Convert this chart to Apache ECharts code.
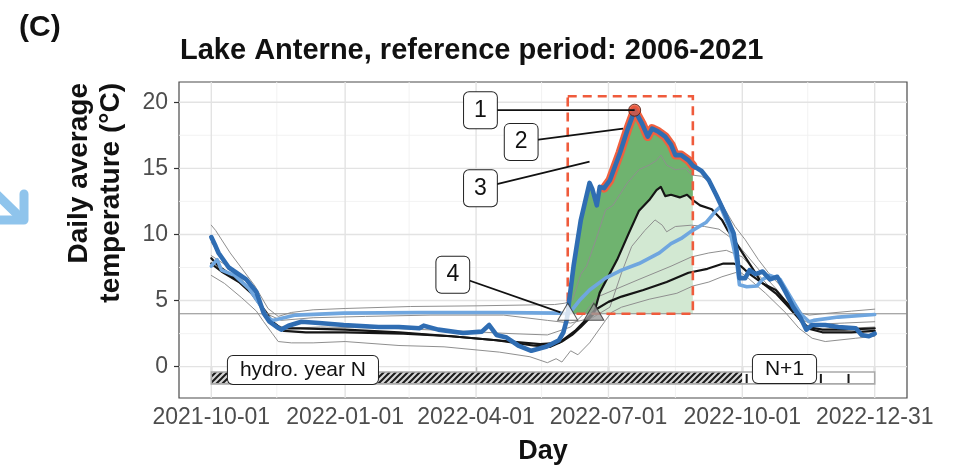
<!DOCTYPE html>
<html>
<head>
<meta charset="utf-8">
<script src="https://cdn.jsdelivr.net/npm/echarts@6/dist/echarts.min.js"></script>
<style>
  html, body { margin: 0; padding: 0; background: #ffffff; }
  #chart { width: 958px; height: 467px; }
</style>
</head>
<body>
<div id="chart"></div>
<script>
// ---- axis ticks ----
const xTickDates = ['2021-10-01', '2022-01-01', '2022-04-01', '2022-07-01', '2022-10-01', '2022-12-31'];
const xMinorDates = ['2021-11-15', '2022-02-14', '2022-05-16', '2022-08-16', '2022-11-15'];
const yTickValues = [0, 5, 10, 15, 20];
const yMinorValues = [2.5, 7.5, 12.5, 17.5];

// ---- daily average temperature, hydrological year 2022 (dark blue) ----
const obs2022 = [
  ['2021-10-01', 9.8], ['2021-10-04', 9.1], ['2021-10-06', 8.6], ['2021-10-13', 7.5], ['2021-10-25', 6.6],
  ['2021-11-01', 5.65], ['2021-11-06', 4.05], ['2021-11-10', 3.4], ['2021-11-15', 3.0], ['2021-11-18', 2.8],
  ['2021-11-23', 3.1], ['2021-12-02', 3.4], ['2021-12-14', 3.3], ['2021-12-31', 3.15], ['2022-01-24', 3.0],
  ['2022-02-07', 3.0], ['2022-02-21', 2.9], ['2022-02-24', 3.1], ['2022-03-06', 2.8], ['2022-03-23', 2.55],
  ['2022-04-05', 2.65], ['2022-04-10', 3.15], ['2022-04-15', 2.4], ['2022-04-22', 2.2], ['2022-04-30', 1.6],
  ['2022-05-09', 1.2], ['2022-05-19', 1.5], ['2022-05-28', 2.0], ['2022-05-31', 2.6], ['2022-06-02', 3.4],
  ['2022-06-03', 4.0], ['2022-06-04', 5.0], ['2022-06-07', 7.6], ['2022-06-12', 11.1], ['2022-06-18', 13.9],
  ['2022-06-20', 13.4], ['2022-06-23', 12.2], ['2022-06-25', 13.6], ['2022-06-28', 13.5], ['2022-07-02', 14.1],
  ['2022-07-09', 16.2], ['2022-07-14', 17.9], ['2022-07-19', 19.4], ['2022-07-24', 18.4], ['2022-07-28', 17.4],
  ['2022-07-31', 18.0], ['2022-08-04', 17.8], ['2022-08-09', 17.4], ['2022-08-13', 16.8], ['2022-08-16', 16.0],
  ['2022-08-20', 16.0], ['2022-08-25', 15.6], ['2022-08-28', 15.2], ['2022-08-31', 15.0], ['2022-09-03', 14.8],
  ['2022-09-08', 14.1], ['2022-09-13', 13.0], ['2022-09-19', 11.6], ['2022-09-25', 10.1], ['2022-09-27', 8.8],
  ['2022-09-29', 6.7], ['2022-10-03', 6.7], ['2022-10-06', 7.3], ['2022-10-10', 7.0], ['2022-10-15', 7.2],
  ['2022-10-20', 6.6], ['2022-10-25', 6.8], ['2022-10-31', 5.6], ['2022-11-05', 4.5], ['2022-11-10', 3.7],
  ['2022-11-14', 2.8], ['2022-11-18', 3.15], ['2022-11-27', 3.15], ['2022-12-06', 3.0], ['2022-12-18', 2.9],
  ['2022-12-22', 2.4], ['2022-12-27', 2.3], ['2022-12-31', 2.5]
];

// ---- light blue series ----
const lightBlue = [
  ['2021-10-01', 7.6], ['2021-10-05', 8.1], ['2021-10-08', 7.3], ['2021-10-17', 6.9], ['2021-10-27', 5.9],
  ['2021-11-04', 4.6], ['2021-11-08', 3.8], ['2021-11-12', 3.5], ['2021-11-20', 3.7], ['2021-11-28', 3.9],
  ['2021-12-31', 4.05], ['2022-02-21', 4.1], ['2022-04-17', 4.1], ['2022-05-28', 4.05], ['2022-06-03', 4.0],
  ['2022-06-06', 4.3], ['2022-06-11', 5.0], ['2022-06-18', 5.8], ['2022-06-29', 6.7], ['2022-07-10', 7.3],
  ['2022-07-22', 7.8], ['2022-08-05', 8.6], ['2022-08-13', 9.3], ['2022-08-20', 9.7], ['2022-08-27', 10.25],
  ['2022-09-06', 10.9], ['2022-09-13', 11.8], ['2022-09-16', 12.1], ['2022-09-22', 10.5], ['2022-09-27', 8.0],
  ['2022-09-29', 6.2], ['2022-10-04', 6.05], ['2022-10-11', 6.1], ['2022-10-15', 6.6], ['2022-10-20', 6.9],
  ['2022-10-27', 6.6], ['2022-11-03', 5.3], ['2022-11-10', 4.0], ['2022-11-16', 3.4], ['2022-11-19', 3.5],
  ['2022-12-06', 3.75], ['2022-12-31', 3.95]
];

// ---- reference period 2006-2021 ----
const refUpper = [
  ['2021-10-01', 8.2], ['2021-10-06', 7.6], ['2021-10-15', 6.9], ['2021-10-27', 5.8], ['2021-11-05', 4.4],
  ['2021-11-12', 3.4], ['2021-11-18', 2.9], ['2021-12-01', 2.9], ['2022-01-01', 2.8], ['2022-02-07', 2.6],
  ['2022-03-15', 2.3], ['2022-04-15', 2.0], ['2022-05-10', 1.6], ['2022-05-22', 1.5], ['2022-05-30', 1.9],
  ['2022-06-06', 2.4], ['2022-06-12', 3.0], ['2022-06-21', 4.0], ['2022-06-25', 5.6], ['2022-07-07', 8.1],
  ['2022-07-15', 10.1], ['2022-07-22', 11.8], ['2022-07-29', 12.6], ['2022-08-03', 13.35], ['2022-08-06', 13.6],
  ['2022-08-09', 12.9], ['2022-08-13', 13.0], ['2022-08-19', 12.8], ['2022-08-24', 13.0], ['2022-08-28', 12.6],
  ['2022-09-02', 12.2], ['2022-09-10', 11.9], ['2022-09-17', 11.1], ['2022-09-21', 10.3], ['2022-09-26', 9.5],
  ['2022-09-30', 8.8], ['2022-10-07', 7.6], ['2022-10-14', 6.4], ['2022-10-24', 5.55], ['2022-11-02', 4.5],
  ['2022-11-10', 3.5], ['2022-11-15', 3.0], ['2022-11-25', 2.8], ['2022-12-10', 2.8], ['2022-12-31', 2.9]
];
const refLower = [
  ['2021-10-01', 7.8], ['2021-10-08', 7.2], ['2021-10-20', 6.4], ['2021-10-30', 5.4], ['2021-11-07', 4.2],
  ['2021-11-14', 3.1], ['2021-11-20', 2.7], ['2021-12-05', 2.6], ['2022-01-01', 2.6], ['2022-02-10', 2.5],
  ['2022-03-15', 2.3], ['2022-04-15', 2.0], ['2022-05-15', 1.7], ['2022-05-28', 1.8], ['2022-06-08', 2.7],
  ['2022-06-16', 3.6], ['2022-06-22', 4.3], ['2022-07-01', 4.9], ['2022-07-10', 5.3], ['2022-07-25', 5.8],
  ['2022-08-10', 6.4], ['2022-08-25', 7.1], ['2022-09-07', 7.4], ['2022-09-18', 7.8], ['2022-09-25', 7.8],
  ['2022-09-30', 7.6], ['2022-10-05', 7.1], ['2022-10-15', 6.3], ['2022-10-24', 5.8], ['2022-10-31', 4.9],
  ['2022-11-06', 4.2], ['2022-11-10', 3.5], ['2022-11-15', 2.9], ['2022-11-25', 2.6], ['2022-12-15', 2.6],
  ['2022-12-31', 2.7]
];
const refMax = [
  ['2021-10-01', 10.7], ['2021-10-04', 10.3], ['2021-10-14', 8.6], ['2021-10-31', 6.1], ['2021-11-09', 4.4],
  ['2021-11-16', 3.8], ['2021-11-25', 4.1], ['2021-12-10', 4.3], ['2022-01-01', 4.4], ['2022-02-15', 4.55],
  ['2022-04-01', 4.6], ['2022-05-25', 4.7], ['2022-06-01', 4.8], ['2022-06-06', 5.0], ['2022-06-12', 7.0],
  ['2022-06-16', 7.6], ['2022-06-23', 9.8], ['2022-06-29', 11.85], ['2022-07-04', 12.2], ['2022-07-14', 13.9],
  ['2022-07-22', 14.9], ['2022-07-29', 15.25], ['2022-08-03', 15.6], ['2022-08-06', 16.0], ['2022-08-10', 15.25],
  ['2022-08-16', 14.9], ['2022-08-23', 15.0], ['2022-08-27', 14.5], ['2022-09-03', 14.4], ['2022-09-10', 13.9],
  ['2022-09-19', 11.9], ['2022-09-26', 10.6], ['2022-10-03', 9.6], ['2022-10-12', 8.1], ['2022-10-19', 7.1],
  ['2022-10-23', 6.6], ['2022-10-30', 5.8], ['2022-11-06', 4.8], ['2022-11-11', 4.05], ['2022-11-16', 3.9],
  ['2022-11-25', 4.0], ['2022-12-15', 4.2], ['2022-12-31', 4.35]
];
const refMid = [
  ['2021-10-01', 9.4], ['2021-10-10', 8.0], ['2021-10-22', 6.6], ['2021-11-02', 5.0], ['2021-11-10', 3.9],
  ['2021-11-18', 3.5], ['2021-12-10', 3.7], ['2022-01-15', 3.8], ['2022-03-01', 3.9], ['2022-04-20', 3.9],
  ['2022-05-20', 3.5], ['2022-06-05', 3.3], ['2022-06-20', 3.7], ['2022-07-02', 4.5], ['2022-07-10', 7.1],
  ['2022-07-17', 9.1], ['2022-07-26', 10.3], ['2022-08-02', 11.1], ['2022-08-07', 10.7], ['2022-08-10', 10.2],
  ['2022-08-16', 10.6], ['2022-08-27', 10.7], ['2022-09-05', 10.6], ['2022-09-15', 10.4], ['2022-09-25', 9.6],
  ['2022-10-05', 8.3], ['2022-10-15', 7.0], ['2022-10-25', 5.8], ['2022-11-03', 4.6], ['2022-11-12', 3.5],
  ['2022-11-18', 3.2], ['2022-12-10', 3.3], ['2022-12-31', 3.4]
];
const refLow = [
  ['2021-10-01', 8.4], ['2021-10-12', 7.6], ['2021-10-25', 6.2], ['2021-11-05', 4.5], ['2021-11-13', 3.2],
  ['2021-11-22', 2.9], ['2021-12-15', 3.0], ['2022-02-01', 2.9], ['2022-03-20', 2.7], ['2022-04-25', 2.5],
  ['2022-05-20', 2.4], ['2022-06-05', 3.0], ['2022-06-14', 4.0], ['2022-06-24', 5.3], ['2022-07-22', 6.6],
  ['2022-08-13', 7.6], ['2022-08-27', 8.3], ['2022-09-08', 8.6], ['2022-09-20', 8.8], ['2022-10-01', 8.3],
  ['2022-10-10', 7.2], ['2022-10-20', 6.0], ['2022-10-30', 4.8], ['2022-11-07', 3.8], ['2022-11-15', 3.0],
  ['2022-11-25', 2.8], ['2022-12-31', 3.0]
];
const refMin = [
  ['2021-10-01', 6.9], ['2021-10-10', 6.3], ['2021-10-22', 5.2], ['2021-11-01', 4.2], ['2021-11-06', 3.4],
  ['2021-11-12', 2.5], ['2021-11-16', 1.9], ['2021-11-25', 1.8], ['2021-12-10', 1.8], ['2022-01-01', 1.9],
  ['2022-02-07', 1.6], ['2022-03-10', 1.5], ['2022-04-17', 1.1], ['2022-05-08', 0.75], ['2022-05-20', 0.3],
  ['2022-05-26', 0.6], ['2022-05-30', 0.35], ['2022-06-05', 1.2], ['2022-06-10', 0.9], ['2022-06-18', 1.8],
  ['2022-06-29', 3.5], ['2022-07-03', 4.1], ['2022-07-10', 4.5], ['2022-07-29', 5.1], ['2022-08-17', 5.55],
  ['2022-08-28', 6.1], ['2022-09-08', 6.4], ['2022-09-17', 6.8], ['2022-09-29', 7.2], ['2022-10-05', 6.7],
  ['2022-10-17', 5.55], ['2022-10-31', 4.05], ['2022-11-09', 2.9], ['2022-11-18', 2.15], ['2022-11-27', 1.9],
  ['2022-12-18', 2.15], ['2022-12-31', 2.3]
];

// ---- thresholds and events ----
const threshold = 4;
const obsCrossDate = '2022-06-03';   // 2022 crosses 4 °C
const refCrossDate = '2022-06-21';   // reference crosses 4 °C
const periodEnd = '2022-08-28';
const periodTop = 20.45;
const exceedStart = '2022-06-28';

// ---- hydrological year bar ----
const hydroStart = '2021-10-01';
const hydroSplit = '2022-10-01';
const hydroEnd = '2022-12-31';
const hydroBarTop = -0.4;
const hydroBarBottom = -1.3;
const hydroTickDates = ['2022-10-04', '2022-11-24', '2022-12-13'];
const hydroLabels = ['hydro. year N', 'N+1'];
const hydroLabelAt = [['2021-12-03', -0.25], ['2022-10-30', -0.17]];

// ---- numbered callouts ----
const calloutTexts = ['1', '2', '3', '4'];
const calloutAt = [['2022-04-04', 19.4], ['2022-05-02', 17.0], ['2022-04-04', 13.5], ['2022-03-16', 6.95]];
const calloutTo = [null, ['2022-07-11', 18.0], ['2022-06-18', 15.5], ['2022-05-29', 4.1]];

// ---------------------------------------------------------------
const FONT = '"Liberation Sans", Arial, Helvetica, sans-serif';
const DAY = 86400000;

function ts(s) {
  const [y, m, d] = s.split('-').map(Number);
  return new Date(y, m - 1, d).getTime();
}
function fmtDate(v) {
  const d = new Date(Math.round(v));
  const p = n => String(n).padStart(2, '0');
  return d.getFullYear() + '-' + p(d.getMonth() + 1) + '-' + p(d.getDate());
}
const toXY = arr => arr.map(p => [ts(p[0]), p[1]]);
const between = (arr, a, b) => arr.filter(p => ts(p[0]) >= ts(a) && ts(p[0]) <= ts(b));

const peak = obs2022.reduce((m, p) => (p[1] > m[1] ? p : m), obs2022[0]);

// diagonal hatch pattern for the hydrological-year bar
const hatch = document.createElement('canvas');
hatch.width = 6; hatch.height = 6;
(function () {
  const c = hatch.getContext('2d');
  c.fillStyle = '#d6d6d6';
  c.fillRect(0, 0, 6, 6);
  c.strokeStyle = '#1b1b1b';
  c.lineWidth = 2;
  c.beginPath();
  c.moveTo(-1, 7); c.lineTo(7, -1);
  c.moveTo(-4, 4); c.lineTo(4, -4);
  c.moveTo(2, 10); c.lineTo(10, 2);
  c.stroke();
})();

// a custom layer that draws shapes in data space through the axis scales
function layer(z, draw) {
  return {
    type: 'custom',
    coordinateSystem: 'cartesian2d',
    z: z,
    silent: true,
    animation: false,
    clip: false,
    data: [[ts('2022-01-01'), 0]],
    renderItem: function (params, api) {
      const pt = p => api.coord([ts(p[0]), p[1]]);
      return { type: 'group', children: draw(params.coordSys, pt, api) };
    }
  };
}

function lineSeries(arr, color, width, z) {
  return {
    type: 'line',
    data: toXY(arr),
    showSymbol: false,
    symbol: 'none',
    silent: true,
    animation: false,
    z: z,
    lineStyle: { color: color, width: width, join: 'round', cap: 'round' }
  };
}

const gridLayer = layer(1, function (cs, pt) {
  const out = [];
  const vx = (d, color, w) => {
    const x = pt([d, 0])[0];
    out.push({ type: 'line', shape: { x1: x, y1: cs.y, x2: x, y2: cs.y + cs.height }, style: { stroke: color, lineWidth: w } });
  };
  const hy = (v, color, w) => {
    const y = pt([xTickDates[0], v])[1];
    out.push({ type: 'line', shape: { x1: cs.x, y1: y, x2: cs.x + cs.width, y2: y }, style: { stroke: color, lineWidth: w } });
  };
  xMinorDates.forEach(d => vx(d, '#f1f1f1', 0.9));
  yMinorValues.forEach(v => hy(v, '#f1f1f1', 0.9));
  xTickDates.forEach(d => vx(d, '#e3e3e3', 1.4));
  yTickValues.forEach(v => hy(v, '#e3e3e3', 1.4));
  return out;
});

const fillLayer = layer(2, function (cs, pt) {
  const refPart = between(refUpper, refCrossDate, periodEnd);
  const light = refPart.concat([[periodEnd, threshold]]).map(pt);
  const dark = [[obsCrossDate, threshold]]
    .concat(between(obs2022, obsCrossDate, periodEnd))
    .concat(refPart.slice().reverse())
    .map(pt);
  return [
    { type: 'polygon', shape: { points: light }, style: { fill: '#d2e8d2' } },
    { type: 'polygon', shape: { points: dark }, style: { fill: '#6fb36f' } }
  ];
});

const frameLayer = layer(4, function (cs, pt) {
  const y4 = pt([hydroStart, threshold])[1];
  const a = pt([obsCrossDate, periodTop]);
  const b = pt([periodEnd, threshold]);
  return [
    { type: 'line', shape: { x1: cs.x, y1: y4, x2: cs.x + cs.width, y2: y4 }, style: { stroke: '#8a8a8a', lineWidth: 1 } },
    { type: 'rect', shape: { x: a[0], y: a[1], width: b[0] - a[0], height: b[1] - a[1] },
      style: { fill: null, stroke: '#ef5b3c', lineWidth: 2.6, lineDash: [9, 6] } }
  ];
});

const hydroLayer = layer(11, function (cs, pt) {
  const a = pt([hydroStart, hydroBarTop]);
  const m = pt([hydroSplit, hydroBarBottom]);
  const e = pt([hydroEnd, hydroBarBottom]);
  const out = [
    { type: 'rect', shape: { x: a[0], y: a[1], width: m[0] - a[0], height: m[1] - a[1] },
      style: { fill: { image: hatch, repeat: 'repeat' }, stroke: null } },
    { type: 'rect', shape: { x: m[0], y: a[1], width: e[0] - m[0], height: m[1] - a[1] },
      style: { fill: '#ffffff', stroke: null } }
  ];
  hydroTickDates.forEach(d => {
    const x = pt([d, 0])[0];
    out.push({ type: 'line', shape: { x1: x, y1: a[1] + 2, x2: x, y2: m[1] }, style: { stroke: '#1b1b1b', lineWidth: 2 } });
  });
  out.push({ type: 'rect', shape: { x: a[0], y: a[1], width: e[0] - a[0], height: m[1] - a[1] },
    style: { fill: null, stroke: '#a9a9a9', lineWidth: 1.6 } });
  hydroLabels.forEach((t, i) => {
    const p = pt(hydroLabelAt[i]);
    out.push({ type: 'text', x: p[0], y: p[1], style: {
      text: t, fontSize: 21, fontFamily: FONT, fill: '#111', align: 'center', verticalAlign: 'middle',
      backgroundColor: '#ffffff', borderColor: '#222', borderWidth: 1, borderRadius: 5, padding: [4, 12, 3, 12]
    } });
  });
  return out;
});

const calloutLayer = layer(12, function (cs, pt) {
  const out = [];
  calloutTexts.forEach((t, i) => {
    const from = pt(calloutAt[i]);
    const to = pt(calloutTo[i] || peak);
    out.push({ type: 'line', shape: { x1: from[0], y1: from[1], x2: to[0], y2: to[1] }, style: { stroke: '#111', lineWidth: 1.8 } });
  });
  calloutTexts.forEach((t, i) => {
    const p = pt(calloutAt[i]);
    out.push({ type: 'text', x: p[0], y: p[1], style: {
      text: t, fontSize: 23, fontFamily: FONT, fill: '#111', align: 'center', verticalAlign: 'middle',
      backgroundColor: '#ffffff', borderColor: '#222', borderWidth: 1, borderRadius: 5, padding: [7, 10, 6, 10]
    } });
  });
  return out;
});

const axisLabelStyle = { color: '#4d4d4d', fontSize: 23, fontFamily: FONT };

const option = {
  animation: false,
  backgroundColor: '#ffffff',
  grid: {
    left: 179, top: 82, width: 728, height: 316,
    show: true, borderColor: '#4a4a4a', borderWidth: 1.2, backgroundColor: 'transparent',
    containLabel: false, outerBoundsMode: 'none'
  },
  xAxis: {
    type: 'value',
    min: ts('2021-10-01') - 22.2 * DAY,
    max: ts('2022-12-31') + 22.2 * DAY,
    axisLine: { show: false },
    splitLine: { show: false },
    minorSplitLine: { show: false },
    axisTick: { show: true, length: 5, lineStyle: { color: '#333', width: 1.2 }, customValues: xTickDates.map(ts) },
    axisLabel: Object.assign({ margin: 8, hideOverlap: false, showMinLabel: true, showMaxLabel: true, formatter: v => fmtDate(v), customValues: xTickDates.map(ts) }, axisLabelStyle)
  },
  yAxis: {
    type: 'value',
    min: -2.37,
    max: 21.53,
    axisLine: { show: false },
    splitLine: { show: false },
    axisTick: { show: true, length: 5, lineStyle: { color: '#333', width: 1.2 }, customValues: yTickValues },
    axisLabel: Object.assign({ margin: 11, formatter: v => String(v), customValues: yTickValues }, axisLabelStyle)
  },
  graphic: [
    { type: 'text', left: 19, top: 13, style: { text: '(C)', fontSize: 30, fontWeight: 'bold', fontFamily: FONT, fill: '#111' } },
    { type: 'text', x: 180, y: 51, style: { text: 'Lake Anterne, reference period: 2006-2021', fontSize: 29, fontWeight: 'bold', fontFamily: FONT, fill: '#111', align: 'left', verticalAlign: 'middle' } },
    { type: 'text', x: 95, y: 83, rotation: Math.PI / 2, style: { text: 'Daily average\ntemperature (°C)', fontSize: 28, fontWeight: 'bold', fontFamily: FONT, fill: '#111', align: 'right', verticalAlign: 'middle', lineHeight: 32 } },
    { type: 'text', x: 543, y: 452, style: { text: 'Day', fontSize: 27, fontWeight: 'bold', fontFamily: FONT, fill: '#111', align: 'center', verticalAlign: 'middle' } },
    { type: 'polyline', shape: { points: [[-14, 184], [21, 218]] }, style: { stroke: '#8fc4ec', lineWidth: 9, lineCap: 'round', fill: null } },
    { type: 'polyline', shape: { points: [[24, 194], [24, 220], [0, 220]] }, style: { stroke: '#8fc4ec', lineWidth: 9, lineCap: 'round', lineJoin: 'round', fill: null } }
  ],
  series: [
    gridLayer,
    fillLayer,
    lineSeries(refMax, '#8f8f8f', 1, 3),
    lineSeries(refMid, '#8f8f8f', 1, 3),
    lineSeries(refLow, '#8f8f8f', 1, 3),
    lineSeries(refMin, '#8f8f8f', 1, 3),
    lineSeries(refLower, '#151515', 2.2, 3),
    lineSeries(refUpper, '#151515', 2.2, 3),
    frameLayer,
    lineSeries(lightBlue, '#6fa6df', 3.6, 5),
    lineSeries(between(obs2022, exceedStart, periodEnd), '#f0603f', 9, 6),
    lineSeries(obs2022, '#2f6db3', 4.6, 7),
    {
      type: 'scatter', z: 8, silent: true, animation: false,
      symbol: 'triangle', symbolSize: [20, 17], symbolOffset: [0, -2],
      data: [
        { value: [ts(obsCrossDate), threshold], itemStyle: { color: '#ffffff' } },
        { value: [ts(refCrossDate), threshold], itemStyle: { color: '#9a9a9a' } }
      ],
      itemStyle: { borderColor: '#333', borderWidth: 1 }
    },
    {
      type: 'scatter', z: 9, silent: true, animation: false,
      symbol: 'circle', symbolSize: 12,
      data: [[ts(peak[0]), peak[1]]],
      itemStyle: { color: '#e8563b', borderColor: '#4a1408', borderWidth: 1 }
    },
    hydroLayer,
    calloutLayer
  ]
};

const chart = echarts.init(document.getElementById('chart'), null, { renderer: 'canvas' });
chart.setOption(option);
</script>
</body>
</html>
